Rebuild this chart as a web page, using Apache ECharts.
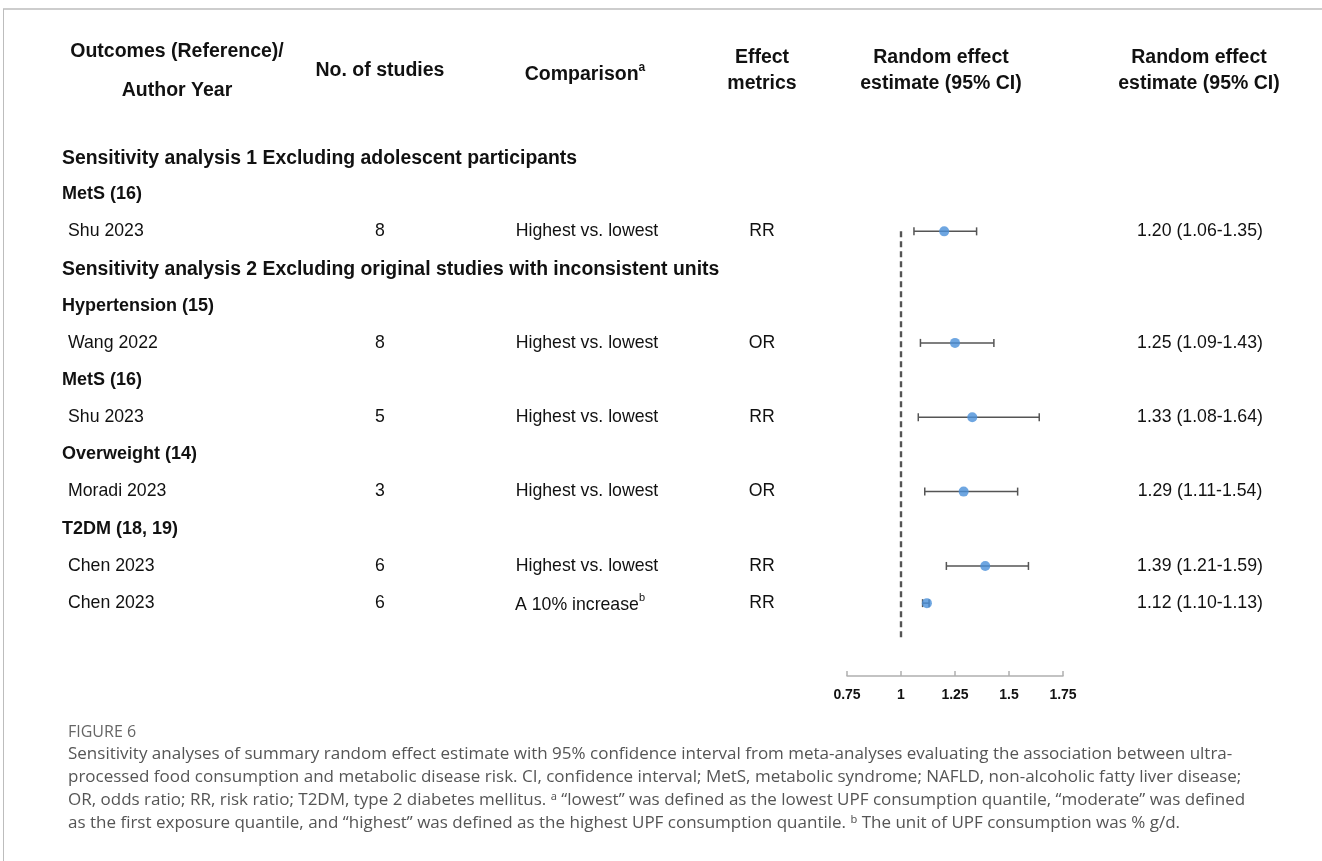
<!DOCTYPE html>
<html><head><meta charset="utf-8">
<script src="https://cdn.jsdelivr.net/npm/echarts@6/dist/echarts.min.js"></script>
<style>html,body{margin:0;padding:0;background:#fff}#c{width:1322px;height:861px}</style>
</head><body><div id="c"></div>
<script>
// ---------- data ----------
const sectionRows = [0, 3];
const sectionTitles = [
  "Sensitivity analysis 1 Excluding adolescent participants",
  "Sensitivity analysis 2 Excluding original studies with inconsistent units"
];
const groupRows = [1, 4, 6, 8, 10];
const groupTitles = ["MetS (16)", "Hypertension (15)", "MetS (16)", "Overweight (14)", "T2DM (18, 19)"];
const studyRows = [2, 5, 7, 9, 11, 12];
const studyNames = ["Shu 2023", "Wang 2022", "Shu 2023", "Moradi 2023", "Chen 2023", "Chen 2023"];
const studyCounts = [8, 8, 5, 3, 6, 6];
const comparisons = ["Highest vs. lowest", "Highest vs. lowest", "Highest vs. lowest", "Highest vs. lowest", "Highest vs. lowest", "A 10% increase"];
const comparisonSup = ["", "", "", "", "", "b"];
const metrics = ["RR", "OR", "RR", "OR", "RR", "RR"];
const estimates = [1.20, 1.25, 1.33, 1.29, 1.39, 1.12];
const lowers = [1.06, 1.09, 1.08, 1.11, 1.21, 1.10];
const uppers = [1.35, 1.43, 1.64, 1.54, 1.59, 1.13];
const refValue = 1;
const refRows = [2, 13];
const xTicks = [0.75, 1, 1.25, 1.5, 1.75];

const captionLabel = "FIGURE 6";
const captionLines = [
  "Sensitivity analyses of summary random effect estimate with 95% confidence interval from meta-analyses evaluating the association between ultra-",
  "processed food consumption and metabolic disease risk. CI, confidence interval; MetS, metabolic syndrome; NAFLD, non-alcoholic fatty liver disease;",
  "OR, odds ratio; RR, risk ratio; T2DM, type 2 diabetes mellitus. \u1d43 \u201clowest\u201d was defined as the lowest UPF consumption quantile, \u201cmoderate\u201d was defined",
  "as the first exposure quantile, and \u201chighest\u201d was defined as the highest UPF consumption quantile. \u1d47 The unit of UPF consumption was % g/d."
];

// ---------- chart ----------
const TF = "'Liberation Sans', Arial, sans-serif";
const chart = echarts.init(document.getElementById('c'), null, {renderer: 'canvas'});

const errData = studyRows.map((r, i) => [lowers[i], uppers[i], estimates[i], r]);
const ptData = studyRows.map((r, i) => [estimates[i], r]);

chart.setOption({
  animation: false,
  backgroundColor: '#fff',
  grid: {left: 847, right: 1322 - 1063, top: 157, bottom: 861 - 676, containLabel: false},
  xAxis: {
    type: 'value', position: 'bottom', min: xTicks[0], max: xTicks[xTicks.length - 1], interval: 0.25,
    axisLine: {onZero: false, lineStyle: {color: '#b0b0b0', width: 1.5}},
    axisTick: {inside: true, length: 5, lineStyle: {color: '#b0b0b0', width: 1.5}},
    splitLine: {show: false},
    axisLabel: {color: '#111', fontFamily: TF, fontWeight: 'bold', fontSize: 14, margin: 12,
      formatter: v => String(v)}
  },
  yAxis: {type: 'value', inverse: true, min: 0, max: 13.96, show: false},
  series: [
    {
      type: 'line', data: refRows.map(r => [refValue, r]), symbol: 'none',
      lineStyle: {color: '#555', width: 2.4, type: [6, 4]}, silent: true
    },
    {
      type: 'custom', data: errData, silent: true,
      renderItem: function (params, api) {
        const y = api.value(3);
        const a = api.coord([api.value(0), y]);
        const b = api.coord([api.value(1), y]);
        const h = 4;
        const st = {stroke: '#555', lineWidth: 1.5};
        return {type: 'group', children: [
          {type: 'line', shape: {x1: a[0], y1: a[1], x2: b[0], y2: b[1]}, style: st},
          {type: 'line', shape: {x1: a[0], y1: a[1] - h, x2: a[0], y2: a[1] + h}, style: st},
          {type: 'line', shape: {x1: b[0], y1: b[1] - h, x2: b[0], y2: b[1] + h}, style: st}
        ]};
      }
    },
    {
      type: 'scatter', data: ptData, symbol: 'circle', symbolSize: 10, z: 5,
      itemStyle: {color: '#4a90d9'}, silent: true
    }
  ]
});

// text elements positioned through the y scale
const yPix = r => chart.convertToPixel({yAxisIndex: 0}, r);
const g = [];
function txt(x, y, text, opt) {
  g.push(Object.assign({type: 'text', x: x, y: y, silent: true,
    style: Object.assign({text: text, fill: '#111', font: '17.7px ' + TF, textAlign: 'left', textVerticalAlign: 'middle'}, opt || {})}));
}
// frame
g.push({type: 'line', shape: {x1: 3, y1: 9, x2: 1322, y2: 9}, style: {stroke: '#bdbdbd', lineWidth: 1.5}, silent: true});
g.push({type: 'line', shape: {x1: 3.5, y1: 9, x2: 3.5, y2: 861}, style: {stroke: '#bdbdbd', lineWidth: 1}, silent: true});

// headers
const HB = 'bold 19.5px ' + TF;
txt(177, 52, "Outcomes (Reference)/", {font: HB, textAlign: 'center'});
txt(177, 91, "Author Year", {font: HB, textAlign: 'center'});
txt(380, 71, "No. of studies", {font: HB, textAlign: 'center'});
g.push({type: 'text', x: 585, y: 73, silent: true, style: {
  text: '{m|Comparison}{s|a}', textAlign: 'center', textVerticalAlign: 'middle',
  rich: {m: {font: HB, fill: '#111', lineHeight: 23, verticalAlign: 'bottom'}, s: {font: 'bold 12px ' + TF, fill: '#111', verticalAlign: 'top', lineHeight: 23}}
}});
txt(762, 58, "Effect", {font: HB, textAlign: 'center'});
txt(762, 84, "metrics", {font: HB, textAlign: 'center'});
txt(941, 58, "Random effect", {font: HB, textAlign: 'center'});
txt(941, 84, "estimate (95% CI)", {font: HB, textAlign: 'center'});
txt(1199, 58, "Random effect", {font: HB, textAlign: 'center'});
txt(1199, 84, "estimate (95% CI)", {font: HB, textAlign: 'center'});

sectionRows.forEach((r, i) => txt(62, yPix(r) + 1.5, sectionTitles[i], {font: 'bold 19.4px ' + TF}));
groupRows.forEach((r, i) => txt(62, yPix(r), groupTitles[i], {font: 'bold 18px ' + TF}));
studyRows.forEach((r, i) => {
  const y = yPix(r);
  txt(68, y, studyNames[i]);
  txt(380, y, String(studyCounts[i]), {textAlign: 'center'});
  if (comparisonSup[i]) {
    g.push({type: 'text', x: 580, y: y, silent: true, style: {
      text: '{m|' + comparisons[i] + '}{s|' + comparisonSup[i] + '}', textAlign: 'center', textVerticalAlign: 'middle',
      rich: {m: {font: '17.7px ' + TF, fill: '#111', lineHeight: 21, verticalAlign: 'bottom'}, s: {font: '11px ' + TF, fill: '#111', verticalAlign: 'top', lineHeight: 21}}
    }});
  } else {
    txt(587, y, comparisons[i], {textAlign: 'center'});
  }
  txt(762, y, metrics[i], {textAlign: 'center'});
  txt(1200, y, estimates[i].toFixed(2) + ' (' + lowers[i].toFixed(2) + '-' + uppers[i].toFixed(2) + ')', {textAlign: 'center'});
});

// caption
const CF = "'Open Sans', 'Noto Sans', sans-serif";
txt(68, 732, captionLabel, {font: '16px ' + CF, fill: '#666'});
captionLines.forEach((l, i) => txt(68, 754 + i * 23, l, {font: '17px ' + CF, fill: '#555'}));

chart.setOption({graphic: {elements: g}});
</script></body></html>
